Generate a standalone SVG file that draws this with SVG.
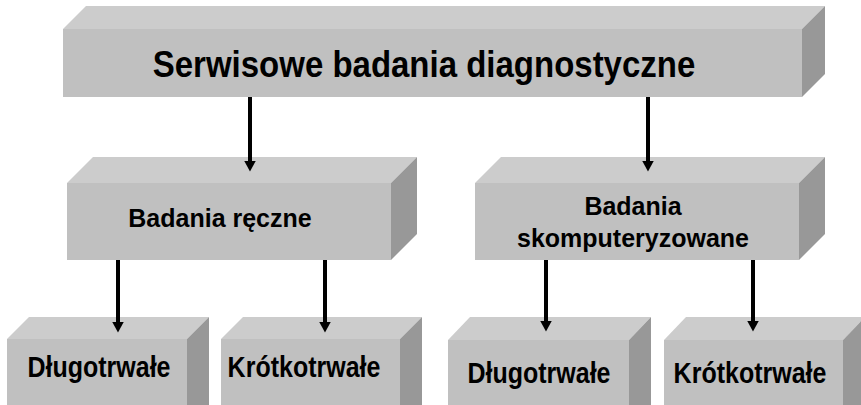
<svg xmlns="http://www.w3.org/2000/svg" width="861" height="405" viewBox="0 0 861 405">
<defs>
<style>
.front{fill:#c0c0c0}
.top{fill:#cccccc}
.side{fill:#989898}
.t{font-family:"Liberation Sans",Arial,sans-serif;font-weight:bold;fill:#000;text-anchor:middle}
.conn line{stroke:#000;stroke-width:4}
</style>
<marker id="ah" viewBox="0 0 11 12" refX="0.5" refY="6" markerWidth="11" markerHeight="12" markerUnits="userSpaceOnUse" orient="auto">
<path d="M0,0 L11,6 L0,12 Z" fill="#000"/>
</marker>
</defs>
<rect width="861" height="405" fill="#fff"/>

<g id="n-root">
<polygon class="top" points="63,29 86,6 825,6 802,29"/>
<polygon class="side" points="802,29 825,6 825,74 802,97"/>
<rect class="front" x="63" y="29" width="739" height="68"/>
<text class="t" transform="translate(424,77) scale(1,1.1)" font-size="33">Serwisowe badania diagnostyczne</text>
</g>

<g id="n-reczne">
<polygon class="top" points="67,183 93,157 417,157 391,183"/>
<polygon class="side" points="391,183 417,157 417,234 391,260"/>
<rect class="front" x="67" y="183" width="324" height="77"/>
<text class="t" transform="translate(220,227) scale(1,1.05)" font-size="25">Badania ręczne</text>
</g>

<g id="n-komp">
<polygon class="top" points="475,183 501,157 825,157 799,183"/>
<polygon class="side" points="799,183 825,157 825,234 799,260"/>
<rect class="front" x="475" y="183" width="324" height="77"/>
<text class="t" transform="translate(633,215) scale(1,1.05)" font-size="25">Badania</text>
<text class="t" transform="translate(633,247) scale(1,1.05)" font-size="25">skomputeryzowane</text>
</g>

<g id="n-dlugo1">
<polygon class="top" points="7,339 29,317 209,317 187,339"/>
<polygon class="side" points="187,339 209,317 209,410 187,410"/>
<rect class="front" x="7" y="339" width="180" height="71"/>
<text class="t" transform="translate(99,377) scale(1,1.2)" font-size="25">Długotrwałe</text>
</g>

<g id="n-krotko1">
<polygon class="top" points="221,339 243,317 422,317 400,339"/>
<polygon class="side" points="400,339 422,317 422,410 400,410"/>
<rect class="front" x="221" y="339" width="179" height="71"/>
<text class="t" transform="translate(304,377) scale(1,1.2)" font-size="25">Krótkotrwałe</text>
</g>

<g id="n-dlugo2">
<polygon class="top" points="448,340 470,317 651,317 629,340"/>
<polygon class="side" points="629,340 651,317 651,410 629,410"/>
<rect class="front" x="448" y="340" width="181" height="70"/>
<text class="t" transform="translate(539,383) scale(1,1.2)" font-size="25">Długotrwałe</text>
</g>

<g id="n-krotko2">
<polygon class="top" points="664,340 686,317 865,317 843,340"/>
<polygon class="side" points="843,340 865,317 865,410 843,410"/>
<rect class="front" x="664" y="340" width="179" height="70"/>
<text class="t" transform="translate(750,383) scale(1,1.2)" font-size="25">Krótkotrwałe</text>
</g>

<g id="connectors" class="conn">
<line x1="250" y1="97" x2="250" y2="161" marker-end="url(#ah)"/>
<line x1="648" y1="97" x2="648" y2="161" marker-end="url(#ah)"/>
<line x1="118" y1="260" x2="118" y2="322" marker-end="url(#ah)"/>
<line x1="325" y1="260" x2="325" y2="322" marker-end="url(#ah)"/>
<line x1="546" y1="260" x2="546" y2="321" marker-end="url(#ah)"/>
<line x1="753" y1="260" x2="753" y2="321" marker-end="url(#ah)"/>
</g>
</svg>
